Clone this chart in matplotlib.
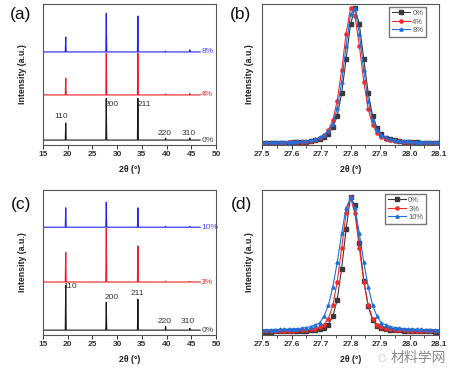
import matplotlib
matplotlib.use('Agg')
import matplotlib.pyplot as plt
from matplotlib.ticker import MultipleLocator

plt.rcParams['font.family'] = ['Liberation Sans', 'DejaVu Sans']

# XRD peaks (hkl)
peak_pos = [19.6, 27.8, 34.2, 39.8, 44.7]
hkl = ['110', '200', '211', '220', '310']

# panel (a): baselines and peak tops for 0%, 4%, 8%
a_labels = ['0%', '4%', '8%']
a_base = [3.5, 35.5, 66.0]
a_tops = [[15.6, 33.0, 33.0, 4.8, 5.0],
          [47.5, 65.0, 65.0, 36.2, 36.5],
          [76.6, 93.5, 91.5, 66.6, 67.5]]
a_hkl_x = [18.6, 28.8, 35.6, 39.5, 44.4]
a_hkl_y = [20.0, 29.0, 29.0, 8.5, 8.5]

# panel (c): baselines and peak tops for 0%, 3%, 10%
c_labels = ['0%', '3%', '10%']
c_base = [3.0, 36.2, 74.0]
c_tops = [[33.9, 22.2, 24.3, 5.5, 4.2],
          [56.8, 73.2, 61.0, 36.8, 36.6],
          [87.4, 91.3, 87.4, 74.6, 74.6]]
c_hkl_x = [20.5, 28.9, 34.0, 39.5, 44.3]
c_hkl_y = [32.8, 25.5, 28.2, 9.2, 8.8]

# zoomed (200) peak, scan points
scan_x = [27.500, 27.515, 27.530, 27.545, 27.560, 27.575, 27.590, 27.605, 27.620, 27.635,
          27.650, 27.665, 27.680, 27.695, 27.710, 27.725, 27.740, 27.755, 27.770, 27.785,
          27.800, 27.815, 27.830, 27.845, 27.860, 27.875, 27.890, 27.905, 27.920, 27.935,
          27.950, 27.965, 27.980, 27.995, 28.010, 28.025, 28.040, 28.055, 28.070, 28.085,
          28.100]

b_0 = [1.3, 1.4, 1.4, 1.5, 1.5, 1.6, 1.7, 1.8, 1.9, 2.1, 2.2, 2.5, 3.2, 4.3, 5.5, 8.0,
       12.5, 20.5, 36.8, 60.9, 85.6, 97.0, 85.6, 60.9, 36.8, 20.5, 12.0, 7.5, 5.0, 4.0,
       3.3, 2.6, 2.2, 2.1, 1.9, 1.8, 1.7, 1.6, 1.5, 1.5, 1.4]
b_4 = [1.3, 1.4, 1.4, 1.5, 1.6, 1.7, 1.8, 1.9, 2.0, 2.2, 2.4, 2.8, 3.6, 5.0, 7.0, 10.5,
       17.5, 31.5, 52.9, 78.8, 97.0, 91.6, 70.4, 44.7, 25.5, 14.5, 8.8, 6.0, 4.5, 3.6,
       3.0, 2.5, 2.2, 2.0, 1.8, 1.7, 1.6, 1.5, 1.5, 1.4, 1.3]
b_8 = [1.8, 1.9, 1.9, 2.0, 2.1, 2.2, 2.3, 2.4, 2.5, 2.7, 3.0, 3.4, 4.0, 5.5, 7.2, 9.8,
       15.0, 26.0, 44.7, 70.4, 92.6, 97.0, 78.8, 52.9, 31.5, 17.5, 10.5, 7.2, 5.4, 4.3,
       3.5, 3.1, 2.8, 2.6, 2.4, 2.3, 2.2, 2.1, 2.0, 1.9, 1.9]

d_0 = [1.9, 2.0, 2.0, 2.1, 2.1, 2.2, 2.2, 2.3, 2.4, 2.5, 2.6, 2.8, 3.1, 3.6, 4.6, 6.8,
       12.5, 24.0, 45.4, 72.6, 94.5, 89.0, 63.4, 37.2, 19.4, 10.0, 6.0, 4.5, 3.7, 3.3,
       3.0, 2.8, 2.6, 2.5, 2.4, 2.3, 2.2, 2.1, 2.1, 2.0, 2.0]
d_3 = [2.2, 2.2, 2.3, 2.3, 2.4, 2.5, 2.5, 2.7, 2.8, 3.0, 3.2, 3.6, 4.0, 4.9, 6.7, 11.0,
       20.1, 36.4, 59.6, 83.5, 94.5, 83.5, 59.6, 36.4, 20.1, 11.0, 6.7, 4.9, 4.0, 3.6,
       3.2, 3.0, 2.8, 2.7, 2.5, 2.5, 2.4, 2.3, 2.3, 2.2, 2.2]
d_10 = [3.2, 3.3, 3.3, 3.4, 3.5, 3.6, 3.7, 3.9, 4.1, 4.4, 4.8, 5.5, 6.6, 7.9, 12.6, 20.1,
        32.9, 49.8, 69.7, 87.2, 94.5, 87.2, 69.7, 49.8, 32.9, 20.1, 12.6, 7.9, 6.6, 5.5,
        4.8, 4.4, 4.1, 3.9, 3.7, 3.6, 3.5, 3.4, 3.3, 3.3, 3.2]

xrd_colors = ['#1a1a1a', '#ee1c25', '#2424ee']
lab_colors = ['#444444', '#ee3030', '#4848ff']
zoom_colors = ['#3a3a3a', '#f42a2a', '#1f6fdc']
zoom_markers = ['s', 'o', '^']


def xrd_line(base, tops):
    xs, ys = [15.0], [base]
    for p, t in zip(peak_pos, tops):
        xs += [p - 0.1, p, p + 0.1]
        ys += [base, t, base]
    xs.append(46.8)
    ys.append(base)
    return xs, ys


def style(ax):
    for s in ax.spines.values():
        s.set_color('#555555')
        s.set_linewidth(0.8)
    ax.set_yticks([])
    ax.tick_params(axis='x', which='major', direction='out', length=3, width=0.7,
                   labelsize=6, pad=1.5, colors='#333333')
    ax.tick_params(axis='x', which='minor', direction='out', length=1.8, width=0.6,
                   colors='#333333')
    for t in ax.get_xticklabels():
        t.set_fontweight('bold')
    ax.set_ylabel('Intensity (a.u.)', fontsize=6.3, fontweight='bold', color='#222222')
    ax.set_xlabel('2θ (°)', fontsize=6.3, fontweight='bold', color='#222222')
    ax.set_ylim(0, 100)


fig = plt.figure(figsize=(4.52, 3.69), dpi=100)
W, H = 452.0, 369.0
ax_a = fig.add_axes([43 / W, 1 - 145 / H, 173 / W, 141 / H])
ax_b = fig.add_axes([262 / W, 1 - 145 / H, 177 / W, 141 / H])
ax_c = fig.add_axes([43 / W, 1 - 334.5 / H, 173 / W, 145 / H])
ax_d = fig.add_axes([262 / W, 1 - 334.5 / H, 177 / W, 145 / H])

# XRD full patterns
for ax, labels, bases, tops, hx, hy in [(ax_a, a_labels, a_base, a_tops, a_hkl_x, a_hkl_y),
                                        (ax_c, c_labels, c_base, c_tops, c_hkl_x, c_hkl_y)]:
    for i in range(3):
        xs, ys = xrd_line(bases[i], tops[i])
        ax.plot(xs, ys, color=xrd_colors[i], lw=0.8)
        ax.text(47.0, bases[i], labels[i], color=lab_colors[i], fontsize=6,
                ha='left', va='center')
    for name, x, y in zip(hkl, hx, hy):
        ax.text(x, y, name, fontsize=6, color='#333333', ha='center', va='center')
    ax.set_xlim(15, 50)
    ax.set_xticks(range(15, 51, 5))
    style(ax)
    ax.yaxis.set_label_coords(-0.095, 0.5)
    ax.xaxis.set_label_coords(0.5, -0.14)

# zoomed (200) peak
for ax, series, labels, legy in [(ax_b, [b_0, b_4, b_8], a_labels, 1 - 3 / 141),
                                 (ax_d, [d_0, d_3, d_10], c_labels, 1 - 4.5 / 145)]:
    for i in range(3):
        ax.plot(scan_x, series[i], color=zoom_colors[i], lw=0.8, marker=zoom_markers[i],
                ms=2.3, mec=zoom_colors[i], mfc=zoom_colors[i], label=labels[i])
    ax.set_xlim(27.5, 28.1)
    ax.set_xticks([27.5, 27.6, 27.7, 27.8, 27.9, 28.0, 28.1])
    ax.set_xticklabels(['27.5', '27.6', '27.7', '27.8', '27.9', '28.0', '28.1'])
    ax.xaxis.set_minor_locator(MultipleLocator(0.05))
    style(ax)
    ax.yaxis.set_label_coords(-0.045, 0.5)
    ax.xaxis.set_label_coords(0.5, -0.14)
    leg = ax.legend(loc='upper right', bbox_to_anchor=(1 - 13 / 177, legy), borderaxespad=0,
                    fontsize=5.5, handlelength=2.4, labelspacing=0.15, borderpad=0.35,
                    handletextpad=0.3, fancybox=False, framealpha=1, edgecolor='#777777')
    for t in leg.get_texts():
        t.set_color('#555555')

# panel letters
for x, y, s in [(21, 15, '(a)'), (241, 15, '(b)'), (21, 205, '(c)'), (242, 205, '(d)')]:
    fig.text(x / W, 1 - y / H, s, fontsize=12.5, ha='center', va='center', color='#111111')

# watermark (kept just below the tick labels)
fig.text(418 / W, 1 - 358 / H, '材料学网', fontsize=10, color='#777777', alpha=0.85,
         ha='center', va='center', family=['Noto Sans CJK SC', 'DejaVu Sans'])
fig.text(381 / W, 1 - 358 / H, '◌', fontsize=10, color='#888888', ha='center', va='center')

fig.savefig('out.png', dpi=100)
